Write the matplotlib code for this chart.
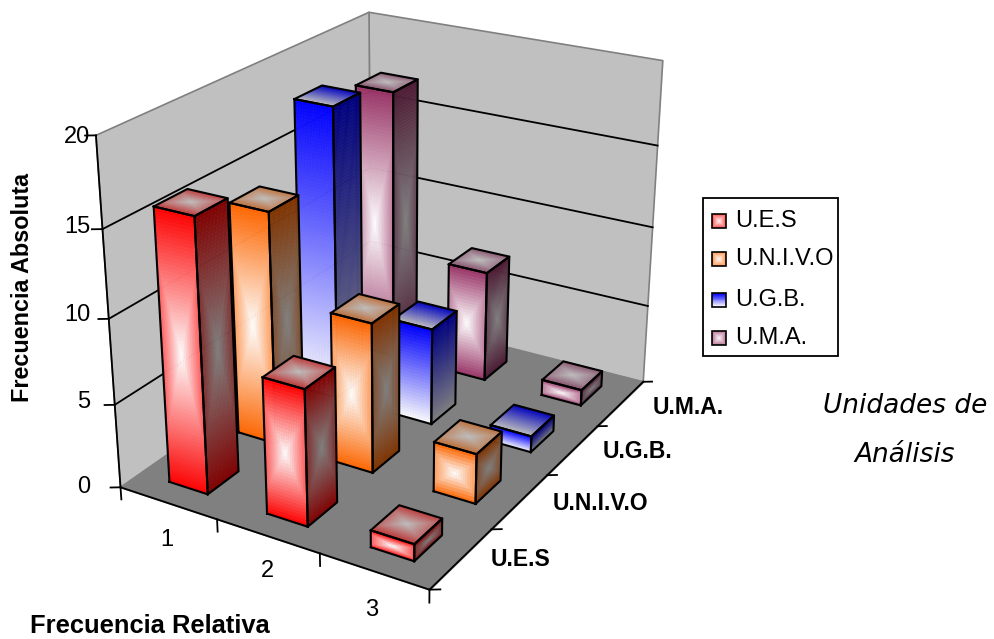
import numpy as np
import matplotlib
matplotlib.use('Agg')
import matplotlib.pyplot as plt
from matplotlib.patches import Rectangle
from mpl_toolkits.mplot3d.art3d import Poly3DCollection

plt.rcParams['font.family'] = ['Liberation Sans', 'DejaVu Sans']

relativa = ['1', '2', '3']
unidades = ['U.E.S', 'U.N.I.V.O', 'U.G.B.', 'U.M.A.']
ues = [16, 8, 1]
univo = [14, 9, 3]
ugb = [18, 6, 1]
uma = [17, 7, 1]
series = [ues, univo, ugb, uma]
colors = [(1, 0, 0), (1, 0.4, 0), (0, 0, 1), (0.6, 0.2, 0.4)]
linear = [False, False, True, False]
z_ticks = [0, 5, 10, 15, 20]

W, H = 995, 639
bar_x = 0.40
bar_y = 0.44


def ramp(base, shade, t):
    # t=0 is the white centre, t=1 the bar colour, all scaled by the face shade
    base = np.array(base)
    return tuple(np.clip(((1 - t) + t * base) * shade, 0, 1))


def face_cells(corner, du, dv, base, shade, is_linear, nu=24, nv=30):
    corner, du, dv = np.array(corner, float), np.array(du, float), np.array(dv, float)
    polys, cols = [], []
    for i in range(nu):
        for j in range(nv):
            a = corner + du * i / nu + dv * j / nv
            b = a + du / nu
            c = b + dv / nv
            d = a + dv / nv
            polys.append([a, b, c, d])
            u = (i + 0.5) / nu * 2 - 1
            v = (j + 0.5) / nv * 2 - 1
            if is_linear:
                t = (v + 1) / 2
            else:
                t = max(abs(u) * 0.65, abs(v))
                if shade == 0.75:
                    t *= 0.7
            cols.append(ramp(base, shade, t))
    return polys, cols


def draw_bar(ax, x, y, h, base, is_linear, z):
    x0, x1 = x - bar_x / 2, x + bar_x / 2
    y0, y1 = y - bar_y / 2, y + bar_y / 2
    tall = max(12, int(h * 5))
    faces = [
        ((x0, y0, 0), (bar_x, 0, 0), (0, 0, h), 1.0, tall),
        ((x1, y0, 0), (0, bar_y, 0), (0, 0, h), 0.5, tall),
        ((x0, y0, h), (bar_x, 0, 0), (0, bar_y, 0), 0.75, 24),
    ]
    for corner, du, dv, shade, nv in faces:
        polys, cols = face_cells(corner, du, dv, base, shade, is_linear, nv=nv)
        ax.add_collection3d(Poly3DCollection(polys, facecolors=cols, edgecolors=cols,
                                             linewidths=0.4, zorder=z))
        c = np.array(corner, float)
        du, dv = np.array(du), np.array(dv)
        edge = np.array([c, c + du, c + du + dv, c + dv, c])
        ax.plot(edge[:, 0], edge[:, 1], edge[:, 2], color='black', lw=1.5, zorder=z + 0.5)


fig = plt.figure(figsize=(W / 100, H / 100), dpi=100)
ax = fig.add_axes([0, 0, 0.5, 0.5], projection='3d', computed_zorder=False)
ax.set_xlim(0, 3)
ax.set_ylim(0, 4)
ax.set_zlim(0, 20)
ax.view_init(elev=23.77, azim=-59.25)
ax.set_proj_type('persp', focal_length=0.5047)
ax.set_box_aspect((0.9557, 1.2874, 1))
ax.set_axis_off()

# place the axes so the fitted camera lands on the reference pixels
scale, off_x, off_y = 3633.489, 396.061, 368.505
vl = ax.viewLim
ax.set_position([(off_x + scale * vl.x0) / W, (off_y + scale * vl.y0) / H,
                 scale * vl.width / W, scale * vl.height / H])
ax.patch.set_alpha(0)

wall_left = [[(0, 0, 0), (0, 4, 0), (0, 4, 20), (0, 0, 20)]]
wall_right = [[(0, 4, 0), (3, 4, 0), (3, 4, 20), (0, 4, 20)]]
floor = [[(0, 0, 0), (3, 0, 0), (3, 4, 0), (0, 4, 0)]]
ax.add_collection3d(Poly3DCollection(wall_left + wall_right, facecolors='#C0C0C0',
                                     edgecolors='#808080', linewidths=1.2, zorder=1))
ax.add_collection3d(Poly3DCollection(floor, facecolors='#808080',
                                     edgecolors='#808080', linewidths=1.0, zorder=2))

for v in z_ticks[1:-1]:
    ax.plot([0, 0, 3], [0, 4, 4], [v, v, v], color='black', lw=1.3, zorder=1.5)

# axis lines and ticks
ax.plot([0, 0], [0, 0], [0, 20], color='black', lw=1.3, zorder=2.5)
ax.plot([0, 3, 3], [0, 0, 4], [0, 0, 0], color='black', lw=1.3, zorder=2.5)
for v in z_ticks:
    ax.plot([0, -0.07], [0, -0.045], [v, v], color='black', lw=1.3, zorder=2.5)
for i in range(len(relativa) + 1):
    ax.plot([i, i], [0, 0], [0, -0.75], color='black', lw=1.3, zorder=2.5)
for i in range(len(unidades) + 1):
    ax.plot([3, 3.07], [i, i + 0.045], [0, 0], color='black', lw=1.3, zorder=2.5)

# back row first, so nearer bars paint over
z = 3
for row in range(len(unidades) - 1, -1, -1):
    for col in range(len(relativa)):
        draw_bar(ax, col + 0.5, row + 0.5, series[row][col], colors[row], linear[row], z)
        z += 1

# overlay in reference pixel coordinates for text and legend
ov = fig.add_axes([0, 0, 1, 1], zorder=50)
ov.set_xlim(0, W)
ov.set_ylim(H, 0)
ov.axis('off')
ov.patch.set_alpha(0)

for v, py in zip(z_ticks, [487, 402, 315, 227, 137]):
    ov.text(90, py, str(v), fontsize=17, ha='right', va='center')
for lab, px, py in zip(relativa, [167, 267, 372], [540, 571, 610]):
    ov.text(px, py, lab, fontsize=17, ha='center', va='center')
for lab, px, py in zip(unidades, [521, 600, 638, 688], [560, 503, 452, 407]):
    ov.text(px, py, lab, fontsize=16.5, fontweight='bold', ha='center', va='center')
ov.text(23, 287, 'Frecuencia Absoluta', fontsize=16.8, fontweight='bold', rotation=90,
        ha='center', va='center')
ov.text(150, 626, 'Frecuencia Relativa', fontsize=18.4, fontweight='bold', ha='center', va='center')
ov.text(905, 406, 'Unidades de', fontsize=19, style='italic', family='DejaVu Sans',
        ha='center', va='center')
ov.text(905, 455, 'Análisis', fontsize=19, style='italic', family='DejaVu Sans',
        ha='center', va='center')

ov.add_patch(Rectangle((703, 198), 135, 158, facecolor='white', edgecolor='black', lw=1.3))
for lab, base, is_linear, py in zip(unidades, colors, linear, [221, 259, 300, 338]):
    n = 15
    uu, vv = np.meshgrid(np.linspace(-1, 1, n), np.linspace(-1, 1, n))
    tt = (vv + 1) / 2 if is_linear else np.maximum(np.abs(uu), np.abs(vv)) * 0.65
    img = np.dstack([(1 - tt) + tt * c for c in base])
    if is_linear:
        img = img[::-1]
    ov.imshow(img, extent=(712, 726, py + 7, py - 7), aspect='auto', interpolation='nearest', zorder=2)
    ov.add_patch(Rectangle((712, py - 7), 14, 14, facecolor='none', edgecolor='black', lw=1.2, zorder=3))
    ov.text(735, py, lab, fontsize=17, ha='left', va='center')
ov.set_xlim(0, W)
ov.set_ylim(H, 0)

fig.savefig('out.png', dpi=100)
